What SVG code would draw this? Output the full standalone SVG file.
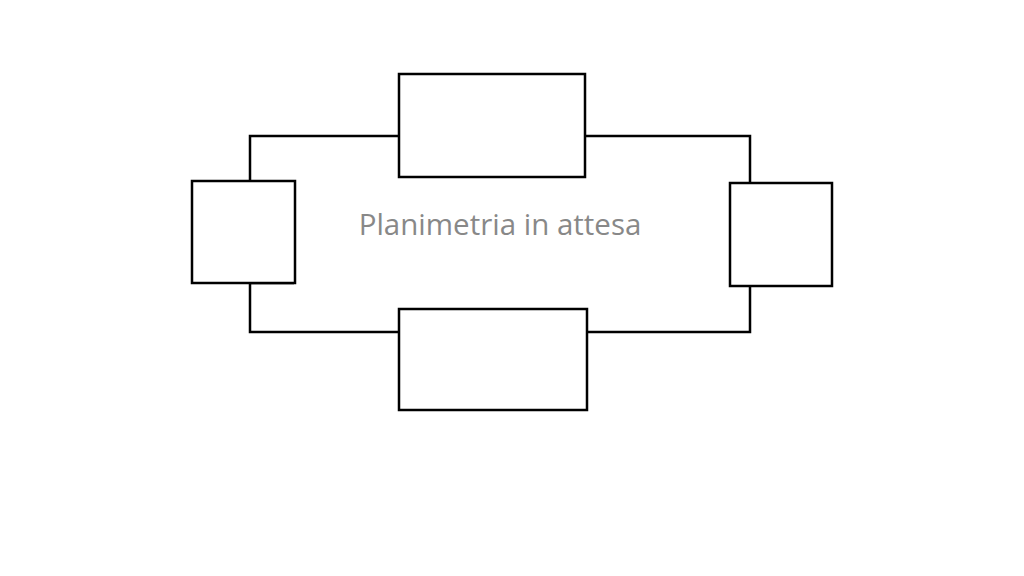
<svg xmlns="http://www.w3.org/2000/svg" width="1024" height="576" viewBox="0 0 1024 576">
<style>.n{fill:#fff;stroke:#000;stroke-width:2.5}.c{fill:none;stroke:#000;stroke-width:2.5}</style>
<rect width="1024" height="576" fill="#fff"/>
<g id="connectors">
<path class="c" d="M399 136H250V181M294 283H250V332H399M586 136H750V183M750 286V332H587"/>
</g>
<g id="top"><rect class="n" x="399" y="74" width="186" height="103"/></g>
<g id="left"><rect class="n" x="192" y="181" width="103" height="102"/></g>
<g id="right"><rect class="n" x="730" y="183" width="102" height="103"/></g>
<g id="bottom"><rect class="n" x="399" y="309" width="188" height="101"/></g>
<text x="500" y="235" text-anchor="middle" font-family="Open Sans, sans-serif" font-size="29.5" fill="#888">Planimetria in attesa</text>
</svg>
